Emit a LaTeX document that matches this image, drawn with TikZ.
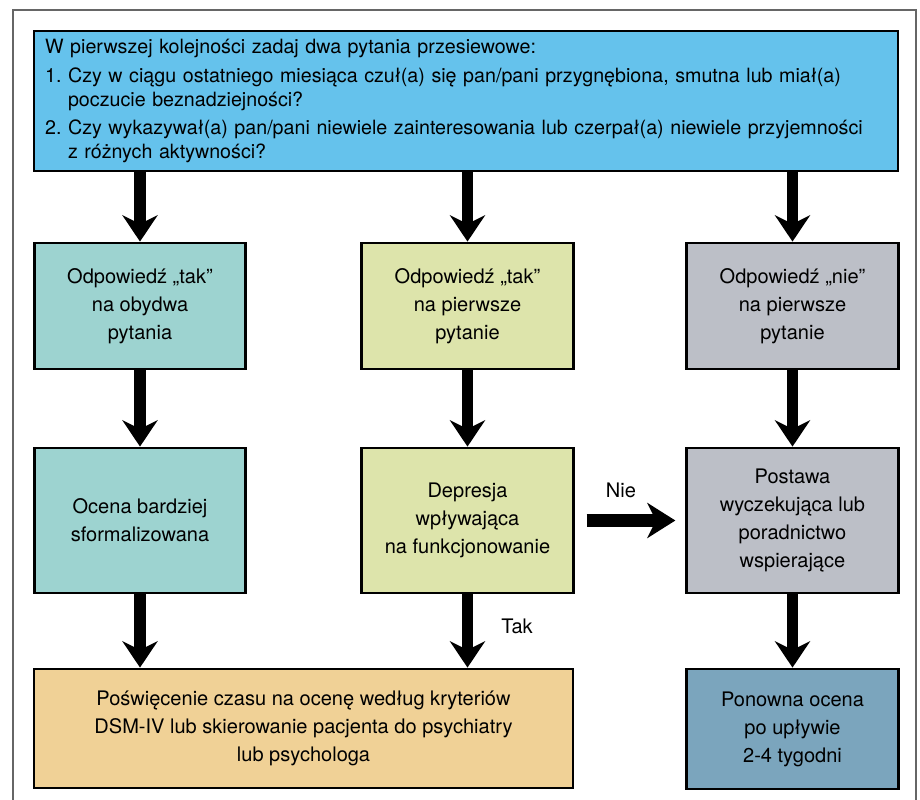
\documentclass[tikz,border=0pt]{standalone}
\usepackage{fontspec}
\setmainfont{TeX Gyre Heros}
\usepackage{tikz}
\usetikzlibrary{arrows.meta,shadows}
\definecolor{ask}{HTML}{65C2EC}
\definecolor{yesboth}{HTML}{9DD3D0}
\definecolor{yesfirst}{HTML}{DDE4AB}
\definecolor{nofirst}{HTML}{BCBFC7}
\definecolor{refer}{HTML}{F0D196}
\definecolor{recheck}{HTML}{7BA5BD}

\begin{document}
\begin{tikzpicture}[
  x=0.02cm, y=-0.02cm,
  box/.style={draw=black, line width=1.6pt, align=center, inner sep=0pt, font=\fontsize{11.4}{16}\selectfont,
    drop shadow={shadow xshift=0.5pt, shadow yshift=-0.8pt, fill=gray!80, opacity=1}},
  col/.style={box, minimum width=4.23cm},
  down/.style={line width=6.3pt, -{Stealth[length=15pt, width=20pt, inset=5pt]}},
  side/.style={line width=7.5pt, -{Stealth[length=16pt, width=20pt, inset=5pt]}},
  lbl/.style={font=\fontsize{11.4}{13}\selectfont}]
\useasboundingbox (0,0) rectangle (920,800);
% frame
\draw[gray!80!black, line width=0.8pt] (13,800) -- (13,10) -- (916,10) -- (916,800);
% screening questions
\node[box, fill=ask, minimum width=17.28cm, minimum height=2.8cm, text width=16.84cm, align=left,
  font=\fontsize{11.2}{13.7}\selectfont] (q) at (466,101)
  {W pierwszej kolejności zadaj dwa pytania przesiewowe:\\[2.6pt]
   1.~Czy w ciągu ostatniego miesiąca czuł(a) się pan/pani przygnębiona, smutna lub miał(a)\\
   \hphantom{1.~}poczucie beznadziejności?\\[2.3pt]
   2.~Czy wykazywał(a) pan/pani niewiele zainteresowania lub czerpał(a) niewiele przyjemności\\
   \hphantom{2.~}z różnych aktywności?};
% answers
\node[col, fill=yesboth,  minimum height=2.52cm] (a1) at (140,306)   {Odpowiedź „tak”\\ na obydwa\\ pytania};
\node[col, fill=yesfirst, minimum height=2.52cm] (b1) at (467.5,306) {Odpowiedź „tak”\\ na pierwsze\\ pytanie};
\node[col, fill=nofirst,  minimum height=2.52cm] (c1) at (792.5,306) {Odpowiedź „nie”\\ na pierwsze\\ pytanie};
% next step
\node[col, fill=yesboth,  minimum height=2.9cm] (a2) at (140,520.5)   {Ocena bardziej\\ sformalizowana};
\node[col, fill=yesfirst, minimum height=2.9cm] (b2) at (467.5,520.5) {Depresja\\ wpływająca\\ na funkcjonowanie};
\node[col, fill=nofirst,  minimum height=2.9cm] (c2) at (792.5,520.5) {Postawa\\ wyczekująca lub\\ poradnictwo\\ wspierające};
% outcome
\node[box, fill=refer, minimum width=10.78cm, minimum height=2.38cm] (d) at (303.5,728.5)
  {Poświęcenie czasu na ocenę według kryteriów\\ DSM-IV lub skierowanie pacjenta do psychiatry\\ lub psychologa};
\node[col, fill=recheck, minimum height=2.4cm] (e) at (792.5,729) {Ponowna ocena\\ po upływie\\ 2-4 tygodni};
% arrows
\foreach \n in {a1,b1,c1} \draw[down] (q.south -| \n.north) -- (\n.north);
\foreach \u/\v in {a1/a2,b1/b2,c1/c2,c2/e} \draw[down] (\u) -- (\v);
\foreach \u in {a2,b2} \draw[down] (\u.south) -- (\u.south |- d.north);
\draw[side, shorten <=0.24cm, shorten >=0.2cm] (b2.east) -- (c2.west);
\node[lbl] (nie) at (621,490) {Nie};
\node[lbl] (tak) at (517,626) {Tak};
\end{tikzpicture}
\end{document}
